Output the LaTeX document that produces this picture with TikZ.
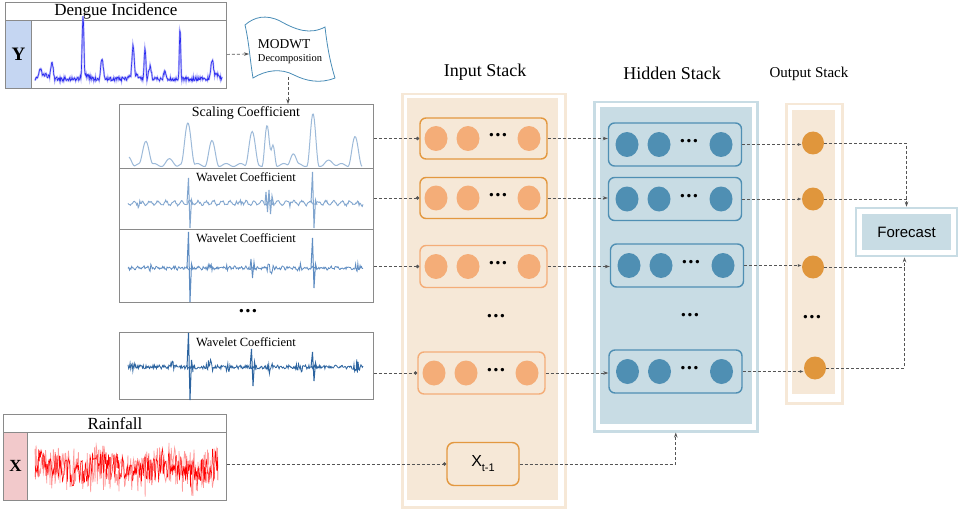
\documentclass[tikz,border=0pt]{standalone}
\usepackage{fontspec}
\setmainfont{Liberation Serif}
\newfontfamily\arialf{Liberation Sans}
\usetikzlibrary{arrows.meta,calc,shapes.geometric}

\definecolor{peach}{HTML}{F6E8D7}
\definecolor{orgdark}{HTML}{E3983F}
\definecolor{orglight}{HTML}{F4AD78}
\definecolor{hidfill}{HTML}{C8DCE4}
\definecolor{hidblue}{HTML}{4F8FB3}
\definecolor{outorg}{HTML}{E0963C}
\definecolor{conngray}{HTML}{555555}
\definecolor{framegray}{HTML}{8A8A8A}
\definecolor{yblue}{HTML}{C5D6F2}
\definecolor{xpink}{HTML}{F2C9CB}
\definecolor{flagblue}{HTML}{4A8DB7}
\definecolor{dengblue}{HTML}{2A2AF0}
\definecolor{scalc}{HTML}{9DBAD9}
\definecolor{waveA}{HTML}{82A6CF}
\definecolor{waveB}{HTML}{5F8DC2}
\definecolor{waveC}{HTML}{2C64A0}

\pgfmathdeclarefunction{bp}{3}{\pgfmathparse{0.5+0.5*cos(180*min(abs(#1-#2)/#3,1))}}
\newcommand{\mydots}{.\hspace{1.2pt}.\hspace{1.2pt}.}

\begin{document}
\begin{tikzpicture}[x=1pt,y=-1pt,
  conn/.style={draw=conngray, dash pattern=on 3pt off 2pt, line width=0.7pt},
  dotend/.style={-{Circle[length=3.5pt]}},
  arr/.style={-{Stealth[length=5pt,width=3.5pt]}},
  oarr/.style={-{Latex[open,length=4pt,width=3pt]}},
  framebox/.style={draw=framegray, line width=0.8pt, fill=white, inner sep=0pt},
  inrowA/.style={draw=orgdark, line width=1.4pt, rounded corners=6pt, minimum width=127, minimum height=41, inner sep=0pt},
  inrowB/.style={draw=orglight, line width=1.4pt, rounded corners=6pt, minimum width=127, minimum height=42, inner sep=0pt},
  hidrow/.style={draw=hidblue, line width=1.4pt, rounded corners=6pt, minimum width=133, minimum height=43, inner sep=0pt},
  incirc/.style={ellipse, fill=orglight, minimum width=23, minimum height=25, inner sep=0pt},
  hidcirc/.style={ellipse, fill=hidblue, minimum width=23, minimum height=25, inner sep=0pt},
  outcirc/.style={ellipse, fill=outorg, minimum width=22, minimum height=23, inner sep=0pt},
  bdots/.style={font=\fontsize{21}{21}\selectfont\bfseries, inner sep=0pt},
  stackframe/.style={line width=2.5pt, inner sep=0pt, anchor=north west},
  stackfill/.style={inner sep=0pt, anchor=north west},
]
\useasboundingbox (0,0) rectangle (960,513);

% ---------------- Dengue incidence ----------------
\node[framebox, minimum width=221, minimum height=18, anchor=north west,
      font=\fontsize{17}{17}\selectfont] (dtitle) at (5,2) {Dengue Incidence};
\node[draw=framegray, line width=0.8pt, fill=yblue, minimum width=26, minimum height=68,
      anchor=north west, inner sep=0pt, font=\fontsize{19}{19}\selectfont\bfseries] (ybox) at (5,20) {Y};
\node[framebox, minimum width=195, minimum height=68, anchor=north west] (dplot) at (31,20) {};
\pgfmathsetseed{7}
\draw[dengblue!35, line width=1.8pt] plot[domain=35:222, samples=360]
  (\x,{81 - 4*rnd - 59*bp(\x,83,2) - 29*bp(\x,133,2.5) - 32*bp(\x,145,2) - 52*bp(\x,180,1.6)
        - 19*bp(\x,102,3) - 15*bp(\x,52,3) - 15*bp(\x,212,3) - 8*bp(\x,165,3) - 10*bp(\x,40,3) - 12*bp(\x,150,3)
        - 4*bp(\x,135,10) - 4*bp(\x,85,8) - 5*bp(\x,215,8) - 4*bp(\x,45,8)});
\pgfmathsetseed{7}
\draw[dengblue, line width=0.6pt] plot[domain=35:222, samples=360]
  (\x,{81 - 4*rnd - 59*bp(\x,83,2) - 29*bp(\x,133,2.5) - 32*bp(\x,145,2) - 52*bp(\x,180,1.6)
        - 19*bp(\x,102,3) - 15*bp(\x,52,3) - 15*bp(\x,212,3) - 8*bp(\x,165,3) - 10*bp(\x,40,3) - 12*bp(\x,150,3)
        - 4*bp(\x,135,10) - 4*bp(\x,85,8) - 5*bp(\x,215,8) - 4*bp(\x,45,8)});

% ---------------- MODWT flag ----------------
\draw[flagblue, line width=0.8pt, fill=white]
  (245,25) .. controls (254,17) and (266,14) .. (280,21)
  .. controls (296,30) and (310,35) .. (325,27)
  .. controls (327,45) and (330,62) .. (335,78)
  .. controls (320,84) and (306,81) .. (294,75)
  .. controls (281,68) and (266,70) .. (253,78)
  .. controls (250,60) and (249,42) .. (245,25) -- cycle;
\node[align=left, inner sep=0pt, minimum width=84, minimum height=52] (modwt) at (290,52)
  {{\fontsize{13.5}{14}\selectfont MODWT}\\[1pt]{\fontsize{10.5}{12}\selectfont Decomposition}};
\coordinate (mdin) at (249,54);
\coordinate (mdout) at (288,77);

% ---------------- coefficient panels ----------------
\node[framebox, minimum width=254, minimum height=64, anchor=north west] (scal) at (119,104) {};
\node[framebox, minimum width=254, minimum height=61, anchor=north west] (wa) at (119,168) {};
\node[framebox, minimum width=254, minimum height=73, anchor=north west] (wb) at (119,229) {};
\node[framebox, minimum width=254, minimum height=67, anchor=north west] (wc) at (119,332) {};

\draw[scalc, line width=1pt] plot[domain=129:362, samples=260]
  (\x,{165 - 8*bp(\x,129,6) + 1.5*sin((\x-129)*25) - 25*bp(\x,146,7) - 43*bp(\x,188,7) - 23*bp(\x,212,7)
        - 33*bp(\x,252,7) - 39*bp(\x,267,5) - 20*bp(\x,273,4) - 12*bp(\x,293,6) - 50*bp(\x,313,6)
        - 27*bp(\x,355,7) - 5*bp(\x,170,8) - 4*bp(\x,330,8)});

\pgfmathsetseed{11}
\draw[waveA, line width=0.9pt] plot[domain=128:363, samples=300]
  (\x,{203 + 2*sin((\x-128)*45) + 1*rand + rand*(4*bp(\x,140,5)+4*bp(\x,240,6)+4*bp(\x,290,5)+5*bp(\x,360,4)+3*bp(\x,215,5))});
\draw[waveA, line width=1pt] (187,203) -- (188.5,178) -- (190,228) -- (191.5,200) -- (193,205);
\draw[waveA, line width=1pt] (265,203) -- (266,192) -- (267.5,212) -- (269,190) -- (270.5,214) -- (272,196) -- (274,206);
\draw[waveA, line width=1pt] (311,203) -- (312.5,172) -- (314,228) -- (315.5,200) -- (317,205);

\draw[waveB, line width=0.8pt] plot[domain=128:363, samples=320]
  (\x,{268 + 0.8*sin((\x-128)*60) + rand*(1.4 + 5*bp(\x,210,4) + 6*bp(\x,270,5) + 4*bp(\x,150,4) + 5*bp(\x,357,4) + 4*bp(\x,228,3) + 4*bp(\x,300,4))});
\draw[waveB, line width=1pt] (187,268) -- (188.5,232) -- (190,302) -- (191.5,264) -- (193,270);
\draw[waveB, line width=1pt] (311,268) -- (312.5,238) -- (314,288) -- (315.5,264) -- (317,270);
\draw[waveB, line width=0.9pt] (250,268) -- (251,259) -- (252.5,278) -- (254,262) -- (255,270);

\draw[waveC, line width=0.8pt] plot[domain=128:363, samples=340]
  (\x,{367 + rand*(2 + 5*bp(\x,132,6) + 5*bp(\x,172,4) + 6*bp(\x,210,5) + 4*bp(\x,228,4) + 4*bp(\x,300,5) + 5*bp(\x,270,5) + 6*bp(\x,357,5))});
\draw[waveC, line width=1pt] (187,367) -- (188.5,333) -- (190,400) -- (191.5,360) -- (193,372);
\draw[waveC, line width=1pt] (250,367) -- (251.5,349) -- (253,386) -- (254.5,362) -- (256,370);
\draw[waveC, line width=1pt] (311,367) -- (312.5,352) -- (314,381) -- (315.5,363) -- (317,369);

\node[font=\fontsize{14}{14}\selectfont, inner sep=0pt] (sct) at (246,113) {Scaling Coefficient};
\node[font=\fontsize{12.5}{12.5}\selectfont, inner sep=0pt] (wat) at (246,177) {Wavelet Coefficient};
\node[font=\fontsize{12.5}{12.5}\selectfont, inner sep=0pt] (wbt) at (246,238) {Wavelet Coefficient};
\node[font=\fontsize{12.5}{12.5}\selectfont, inner sep=0pt] (wct) at (246,342) {Wavelet Coefficient};
\node[bdots] (cdots) at (248,311) {\mydots};

% ---------------- Rainfall ----------------
\node[framebox, minimum width=223, minimum height=18, anchor=north west,
      font=\fontsize{17}{17}\selectfont] (rtitle) at (3,414) {Rainfall};
\node[draw=framegray, line width=0.8pt, fill=xpink, minimum width=24, minimum height=68,
      anchor=north west, inner sep=0pt, font=\fontsize{17}{17}\selectfont\bfseries] (xbox) at (3,432) {X};
\node[framebox, minimum width=199, minimum height=68, anchor=north west] (rplot) at (27,432) {};
\pgfmathsetseed{23}
\draw[red!40, line width=0.7pt] plot[domain=35:218, samples=330]
  (\x,{468 + 19*rand + 12*rand*rnd + 4*sin(\x*6)});
\pgfmathsetseed{29}
\draw[red, line width=0.5pt] plot[domain=35:218, samples=300]
  (\x,{468 + 13*rand + 8*rand*rnd + 4*sin(\x*6)});

% ---------------- Input stack ----------------
\node[font=\fontsize{18}{18}\selectfont, inner sep=0pt] (inlab) at (485,72) {Input Stack};
\node[stackframe, draw=peach, minimum width=163, minimum height=413] (instk) at (401,93) {};
\node[stackfill, fill=peach, minimum width=151, minimum height=402] (instkin) at (407,98) {};

\node[inrowA] (ina) at (483.5,138.5) {};
\node[inrowA] (inb) at (483.5,198) {};
\node[inrowB] (inc) at (483.5,266.5) {};
\node[inrowB] (ind) at (481.5,373) {};
\foreach \r in {ina,inb,inc,ind}{
  \node[incirc] (\r-1) at ($(\r.center)+(-47.5,0)$) {};
  \node[incirc] (\r-2) at ($(\r.center)+(-15.5,0)$) {};
  \node[bdots]  (\r-d) at ($(\r.center)+(14.5,-3)$) {\mydots};
  \node[incirc] (\r-3) at ($(\r.center)+(45.5,0)$) {};
}
\node[bdots] (indots) at (496,316) {\mydots};

% ---------------- X_{t-1} ----------------
\node[draw=orgdark, line width=1.4pt, rounded corners=7pt, minimum width=72, minimum height=43,
      inner sep=0pt, font=\arialf\fontsize{16}{16}\selectfont] (xt) at (483,464)
  {X\raisebox{-5pt}{\fontsize{11}{11}\selectfont t-1}};

% ---------------- Hidden stack ----------------
\node[font=\fontsize{18}{18}\selectfont, inner sep=0pt] (hidlab) at (672,73) {Hidden Stack};
\node[stackframe, draw=hidfill, minimum width=163, minimum height=329] (hidstk) at (593,101) {};
\node[stackfill, fill=hidfill, minimum width=152, minimum height=317] (hidstkin) at (600,107) {};

\node[hidrow] (hda) at (675,144.5) {};
\node[hidrow] (hdb) at (675,199) {};
\node[hidrow] (hdc) at (677,265.5) {};
\node[hidrow] (hdd) at (675.5,371.5) {};
\foreach \r in {hda,hdb,hdc,hdd}{
  \node[hidcirc] (\r-1) at ($(\r.center)+(-48,0)$) {};
  \node[hidcirc] (\r-2) at ($(\r.center)+(-16,0)$) {};
  \node[bdots]  (\r-d) at ($(\r.center)+(14,-3)$) {\mydots};
  \node[hidcirc] (\r-3) at ($(\r.center)+(46,0)$) {};
}
\node[bdots] (hiddots) at (690,315) {\mydots};

% ---------------- Output stack ----------------
\node[font=\fontsize{15}{15}\selectfont, inner sep=0pt] (outlab) at (809,74) {Output Stack};
\node[stackframe, draw=peach, minimum width=56, minimum height=299] (outstk) at (785,103) {};
\node[stackfill, fill=peach, minimum width=43, minimum height=284] (outstkin) at (792,110) {};
\node[outcirc] (oa) at (813,143) {};
\node[outcirc] (ob) at (813,199) {};
\node[outcirc] (oc) at (813,267) {};
\node[outcirc] (od) at (815,368) {};
\node[bdots] (outdots) at (812,317) {\mydots};

% ---------------- Forecast ----------------
\node[draw=hidfill, line width=2.5pt, minimum width=101, minimum height=48, inner sep=0pt] (fcast) at (906.5,232) {};
\node[fill=hidfill, minimum width=89, minimum height=36, inner sep=0pt,
      font=\arialf\fontsize{15}{15}\selectfont] (fin) at (906.5,232) {Forecast};

% ---------------- Connectors ----------------
\draw[conn,arr] (dplot.east) -- (mdin);
\draw[conn,arr] (mdout) -- (mdout |- scal.north);

\draw[conn,dotend] (scal.east |- ina.west) -- (ina.west);
\draw[conn,dotend] (wa.east |- inb.west) -- (inb.west);
\draw[conn,dotend] (wb.east |- inc.west) -- (inc.west);
\draw[conn,dotend] (wc.east |- ind.west) -- (ind.west);

\draw[conn,arr] (ina.east) -- (ina.east -| hda.west);
\draw[conn,arr] (inb.east) -- (inb.east -| hdb.west);
\draw[conn,arr] (inc.east) -- (inc.east -| hdc.west);
\draw[conn,arr] (ind.east) -- (ind.east -| hdd.west);

\draw[conn,oarr] (hda.east) -- (hda.east -| oa.west);
\draw[conn,oarr] (hdb.east) -- (hdb.east -| ob.west);
\draw[conn,oarr] (hdc.east) -- (hdc.east -| oc.west);
\draw[conn,oarr] (hdd.east) -- (hdd.east -| od.west);

\draw[conn,arr] (oa.east) -| (fcast.north);
\draw[conn] (ob.east) -- (ob.east -| fcast.north);
\coordinate (fsouth) at ([xshift=-2pt]fcast.south);
\draw[conn] (oc.east) -- (oc.east -| fsouth);
\draw[conn,arr] (od.east) -| (fsouth);

\draw[conn,dotend] (rplot.east |- xt.west) -- (xt.west);
\draw[conn,arr] (xt.east) -| (hidstk.south);
\end{tikzpicture}
\end{document}
